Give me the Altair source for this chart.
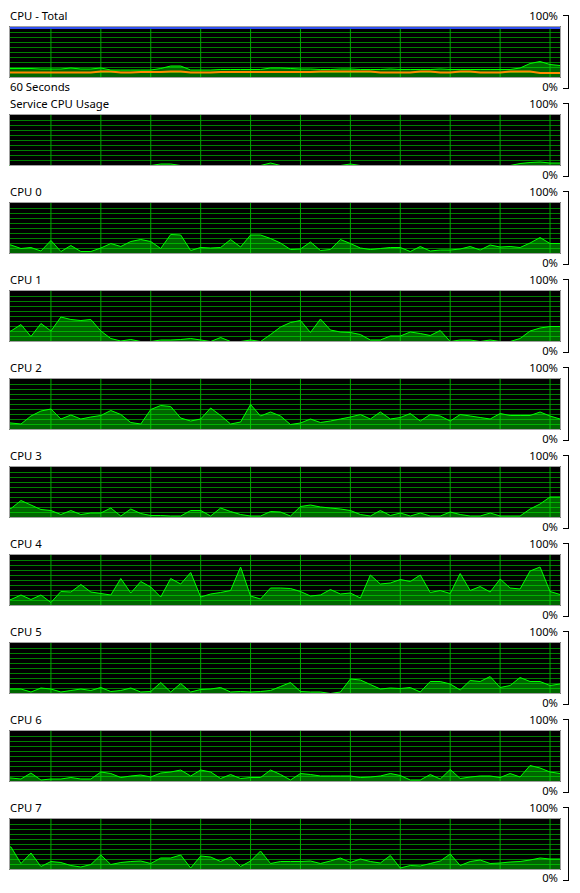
import altair as alt
import pandas as pd

# ---------------- data ----------------
sample_index = list(range(57))

panel_titles = ["CPU - Total", "Service CPU Usage", "CPU 0", "CPU 1", "CPU 2",
                "CPU 3", "CPU 4", "CPU 5", "CPU 6", "CPU 7"]
top_label = "100%"
bottom_label = "0%"
time_label = "60 Seconds"

total_usage = [18, 18, 18, 18, 17, 17, 17, 19, 17, 17,
               19, 15, 15, 15, 15, 15, 18, 23, 23, 15,
               15, 15, 16, 16, 16, 16, 16, 19, 19, 18,
               17, 17, 16, 16, 17, 17, 16, 16, 16, 17,
               16, 16, 16, 16, 17, 16, 16, 16, 16, 16,
               16, 16, 19, 28, 32, 26, 24]
total_service = [10, 10, 10, 10, 10, 10, 10, 10, 10, 10,
                 12, 12, 10, 10, 11, 11, 11, 12, 12, 10,
                 10, 10, 11, 11, 11, 11, 11, 11, 11, 11,
                 11, 11, 12, 12, 12, 12, 12, 12, 10, 10,
                 10, 10, 12, 12, 10, 10, 12, 12, 10, 10,
                 10, 12, 12, 12, 9, 9, 9]
total_max_frequency = [99]

service_usage = [0, 0, 0, 0, 0, 0, 0, 0, 0, 0,
                 0, 0, 0, 0, 0, 0, 3, 3, 0, 0,
                 0, 0, 0, 0, 0, 0, 0, 5, 0, 0,
                 0, 0, 0, 0, 0, 3, 0, 0, 0, 0,
                 0, 0, 0, 0, 0, 0, 0, 0, 0, 0,
                 0, 0, 4, 6, 7, 5, 5]

cpu0 = [21, 17, 10, 12, 5, 26, 4, 16, 4, 4, 11, 20, 14, 24, 28,
        24, 10, 38, 37, 6, 12, 11, 12, 28, 13, 37, 37, 30, 21, 8,
        9, 23, 6, 8, 28, 20, 11, 8, 10, 12, 12, 4, 14, 5, 7,
        7, 9, 14, 7, 17, 13, 14, 12, 21, 32, 20, 20]
cpu1 = [18, 21, 34, 10, 36, 21, 49, 44, 42, 44, 21, 6, 1, 4, 0,
        0, 3, 3, 4, 6, 3, 0, 8, 0, 0, 3, 0, 14, 29, 38,
        42, 18, 45, 23, 19, 18, 14, 3, 3, 11, 11, 19, 16, 12, 22,
        0, 3, 3, 0, 3, 0, 0, 6, 21, 27, 30, 30]
cpu2 = [15, 13, 11, 27, 37, 41, 21, 29, 21, 25, 28, 38, 30, 14, 11,
        40, 48, 46, 23, 17, 21, 43, 28, 11, 15, 50, 27, 35, 27, 10,
        13, 21, 14, 17, 21, 25, 30, 21, 35, 21, 24, 32, 17, 30, 27,
        17, 30, 27, 24, 21, 32, 28, 28, 28, 35, 27, 21]
cpu3 = [14, 18, 34, 25, 16, 14, 6, 14, 6, 9, 9, 19, 3, 17, 8,
        4, 4, 3, 3, 14, 14, 3, 19, 12, 6, 3, 3, 12, 11, 3,
        22, 25, 21, 19, 17, 14, 6, 3, 14, 4, 9, 3, 9, 3, 3,
        11, 6, 3, 3, 9, 3, 3, 3, 17, 27, 41, 41]
cpu4 = [8, 12, 21, 12, 21, 6, 28, 27, 42, 27, 24, 21, 54, 25, 48,
        37, 17, 54, 43, 66, 17, 23, 26, 30, 77, 19, 13, 35, 35, 34,
        28, 19, 21, 32, 23, 25, 15, 61, 43, 45, 52, 48, 61, 26, 30,
        24, 64, 30, 38, 27, 53, 35, 33, 69, 77, 28, 22]
cpu5 = [9, 9, 9, 3, 11, 9, 3, 6, 9, 6, 12, 4, 6, 11, 3,
        4, 22, 3, 20, 3, 8, 9, 12, 3, 4, 3, 4, 6, 14, 22,
        4, 3, 3, 0, 3, 29, 27, 18, 9, 11, 10, 12, 3, 24, 24,
        19, 7, 26, 24, 34, 12, 16, 32, 24, 24, 16, 19]
cpu6 = [8, 7, 5, 17, 3, 5, 5, 8, 5, 5, 19, 16, 8, 11, 13,
        9, 17, 19, 23, 11, 23, 19, 6, 14, 6, 8, 8, 23, 14, 3,
        16, 14, 11, 11, 11, 11, 8, 9, 11, 16, 12, 3, 3, 14, 5,
        24, 6, 9, 11, 11, 8, 16, 9, 32, 27, 19, 16]
cpu7 = [50, 45, 12, 33, 6, 16, 14, 8, 5, 10, 29, 10, 14, 16, 17,
        12, 23, 23, 29, 3, 27, 25, 16, 25, 6, 17, 37, 12, 16, 16,
        16, 17, 12, 17, 23, 14, 21, 16, 13, 28, 3, 8, 7, 12, 17,
        31, 8, 16, 19, 12, 13, 15, 16, 19, 23, 21, 21]

grid_x = [5, 10, 15, 20, 25, 30, 35, 40, 45, 50, 55]
grid_y = [10, 20, 30, 40, 50, 60, 70, 80, 90]

series = [total_usage, service_usage, cpu0, cpu1, cpu2, cpu3, cpu4, cpu5, cpu6, cpu7]

# ---------------- styling / layout ----------------
FONT = "Noto Sans"
FS = 11.3
W = 562
H = 88
H_LAST = 80
X_DOMAIN = [0.8, 57.1]
Y_RANGE = [69.5, 19.5]
GREEN = "#00ff00"
H_GRID = "#007f00"
V_GRID = "#00a800"
BORDER = "#a0a0a0"


def panel(k, height):
    last = k == len(series) - 1
    df = pd.DataFrame({"i": sample_index, "v": series[k]})
    one = pd.DataFrame({"title": [panel_titles[k]], "top": [top_label],
                        "bottom": [bottom_label], "time": [time_label]})
    xenc = alt.X("i:Q", scale=alt.Scale(domain=X_DOMAIN), axis=None)
    yenc = alt.Y("v:Q", scale=alt.Scale(domain=[0, 100], range=Y_RANGE), axis=None)

    bg = alt.Chart(one).mark_rect(color="#000000").encode(
        x=alt.value(0), x2=alt.value(552), y=alt.value(18), y2=alt.value(70))
    hg = alt.Chart(pd.DataFrame({"v": grid_y})).mark_rule(
        color=H_GRID, strokeWidth=1).encode(y=yenc, x=alt.value(0), x2=alt.value(552))
    vg = alt.Chart(pd.DataFrame({"i": grid_x})).mark_rule(
        color=V_GRID, strokeWidth=1).encode(x=xenc, y=alt.value(18), y2=alt.value(70))
    area = alt.Chart(df).mark_area(color=GREEN, opacity=0.4, clip=True).encode(x=xenc, y=yenc)
    line = alt.Chart(df).mark_line(color=GREEN, strokeWidth=1, clip=True).encode(x=xenc, y=yenc)

    layers = [bg, hg, vg, area]
    if k == 0:
        dfo = pd.DataFrame({"i": sample_index, "v": total_service})
        orange = alt.Chart(dfo).mark_line(color="#ff8a00", strokeWidth=2, clip=True).encode(
            x=xenc, y=yenc)
        layers.append(orange)
    layers.append(line)
    if k == 0:
        blue = alt.Chart(pd.DataFrame({"v": total_max_frequency})).mark_rule(
            color="#3050f0", strokeWidth=2).encode(y=yenc, x=alt.value(1), x2=alt.value(551))
        layers.append(blue)

    border = alt.Chart(one).mark_rect(fillOpacity=0, stroke=BORDER, strokeWidth=1).encode(
        x=alt.value(0.5), x2=alt.value(551.5), y=alt.value(18.5), y2=alt.value(69.5))
    layers.append(border)

    bottom_y = 81.5 if last else 83
    title = alt.Chart(one).mark_text(align="left", baseline="alphabetic", font=FONT,
                                     fontSize=FS, color="#000000").encode(
        text="title:N", x=alt.value(1), y=alt.value(11.5))
    top = alt.Chart(one).mark_text(align="right", baseline="alphabetic", font=FONT,
                                   fontSize=FS, color="#000000").encode(
        text="top:N", x=alt.value(549), y=alt.value(11.5))
    bottom = alt.Chart(one).mark_text(align="right", baseline="alphabetic", font=FONT,
                                      fontSize=FS, color="#000000").encode(
        text="bottom:N", x=alt.value(549), y=alt.value(bottom_y))
    layers += [title, top, bottom]
    if k == 0:
        tl = alt.Chart(one).mark_text(align="left", baseline="alphabetic", font=FONT,
                                      fontSize=FS, color="#000000").encode(
            text="time:N", x=alt.value(1), y=alt.value(83))
        layers.append(tl)

    # bracket on the right
    b_v = alt.Chart(one).mark_rule(color="#000000", strokeWidth=1).encode(
        x=alt.value(559.5), y=alt.value(7.5), y2=alt.value(80.5))
    b_t = alt.Chart(one).mark_rule(color="#000000", strokeWidth=1).encode(
        x=alt.value(554), x2=alt.value(560), y=alt.value(7.5))
    b_b = alt.Chart(one).mark_rule(color="#000000", strokeWidth=1).encode(
        x=alt.value(554), x2=alt.value(560), y=alt.value(80.5))
    layers += [b_v, b_t, b_b]

    return alt.layer(*layers).properties(width=W, height=height)


panels = [panel(k, H if k < len(series) - 1 else H_LAST) for k in range(len(series))]

chart = alt.vconcat(*panels, spacing=0, bounds="flush").properties(
    padding={"left": 0, "top": 0, "right": 0, "bottom": 0},
    autosize=alt.AutoSizeParams(type="pad"),
    background="#ffffff",
).configure_view(stroke=None)

chart.save("out.html", embed_options={"renderer": "svg", "actions": False})
